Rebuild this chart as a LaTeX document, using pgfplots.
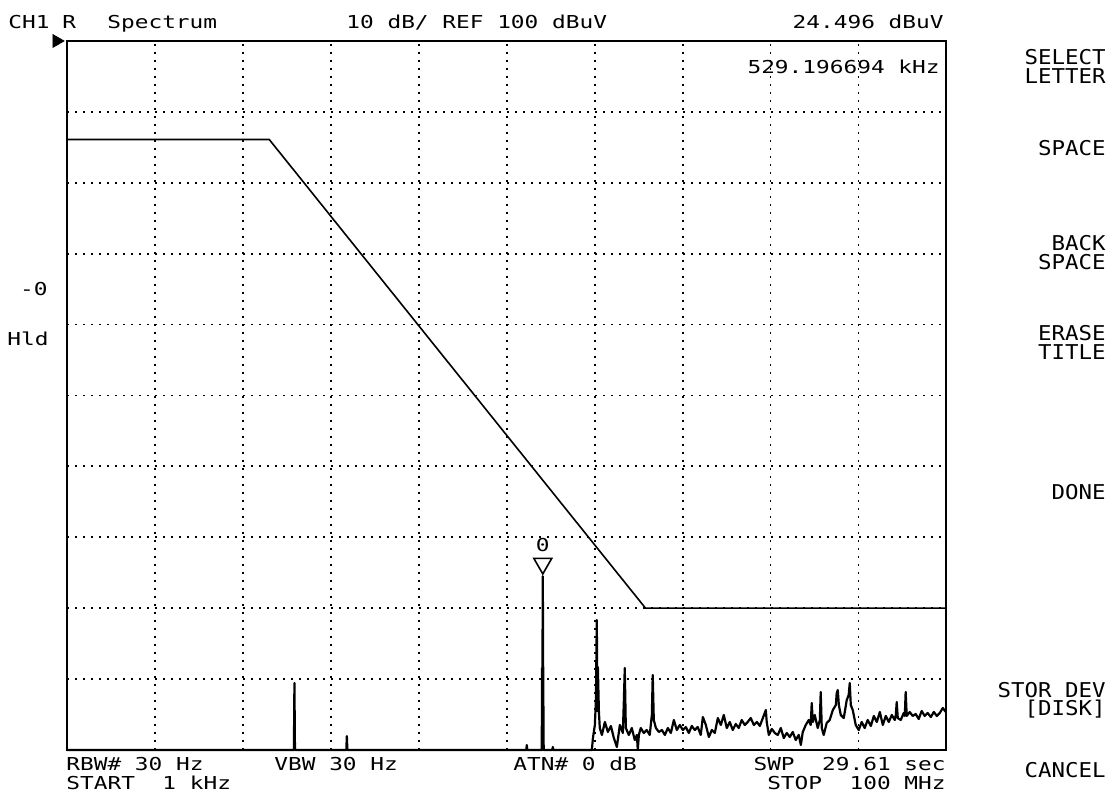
\documentclass[border=0pt]{standalone}
\usepackage{fontspec}
\usepackage{pgfplots}
\pgfplotsset{compat=1.18}
\setmainfont{DejaVu Sans Mono}
\newfontfamily\crtfont[FakeStretch=1.28]{DejaVu Sans Mono}
\newfontfamily\keyfont[FakeStretch=1.1]{DejaVu Sans Mono}
\newcommand\crt{\crtfont\fontsize{8.9pt}{9.5pt}\selectfont}
\newcommand\key{\keyfont\fontsize{10.2pt}{9.5pt}\selectfont}
\begin{document}
\begin{tikzpicture}
\useasboundingbox (0,0) rectangle (558pt,397pt);
\begin{axis}[
  at={(33.5pt,22pt)}, anchor=south west,
  width=439.75pt, height=354.5pt, scale only axis,
  xmin=3, xmax=8, ymin=0, ymax=100,
  xtick={3.5,4,...,7.5}, ytick={10,20,...,90},
  xticklabels={}, yticklabels={},
  major tick length=0pt,
  grid=major,
  major grid style={black, line width=0.9pt, dash pattern=on 0.9pt off 3.1pt},
  axis line style={line width=1pt},
  clip=false,
]
% limit line
\addplot[black, line width=0.8pt] coordinates {(3,86.1)(4.150,86.1)(6.289,20)(8,20)};
% measured trace (x = log10 of frequency in Hz, y = dBuV)
\addplot[black, line width=1.1pt, line join=round] coordinates {
(3,0)(4.290,0)(4.293,9.45)(4.296,0)(4.588,0)(4.591,1.97)(4.594,0)
(5.611,0)(5.614,0.7)(5.617,0)(5.699,0)(5.701,11.57)(5.702,0)(5.703,11.57)(5.705,24.5)(5.707,11.57)(5.710,0)
(5.759,0)(5.762,0.42)(5.765,0)
(5.984,0)(5.990,1.69)(6.001,3.53)(6.007,7.05)(6.012,18.34)(6.015,5.5)(6.018,11.71)(6.024,5.36)
(6.029,3.10)(6.041,2.12)(6.058,3.95)(6.075,2.54)(6.092,3.39)(6.109,1.69)(6.126,0.42)
(6.143,3.53)(6.160,2.40)(6.166,7.05)(6.171,11.57)(6.177,3.10)(6.194,2.12)(6.211,3.10)
(6.228,1.41)(6.240,2.12)(6.245,0)(6.251,2.12)(6.262,3.10)(6.279,2.40)(6.296,2.82)
(6.313,2.12)(6.325,4.94)(6.330,10.58)(6.336,4.23)(6.348,3.10)(6.365,2.54)(6.382,2.82)
(6.399,2.12)(6.416,3.10)(6.433,2.40)(6.450,4.23)(6.467,2.82)(6.484,3.53)(6.501,2.82)
(6.518,3.24)(6.535,2.40)(6.552,3.39)(6.569,2.82)(6.586,3.24)(6.603,2.12)(6.615,4.65)
(6.632,3.53)(6.649,1.83)(6.666,2.82)(6.683,2.40)(6.700,4.51)(6.717,3.53)(6.734,4.94)
(6.751,3.10)(6.768,3.95)(6.785,2.82)(6.802,3.67)(6.819,3.10)(6.836,4.23)(6.853,3.53)
(6.870,3.95)(6.887,4.51)(6.905,3.53)(6.922,3.95)(6.939,3.39)(6.956,4.51)(6.973,5.64)
(6.978,3.95)(6.990,2.12)(7.007,2.96)(7.024,2.40)(7.041,2.12)(7.058,3.10)(7.075,1.69)
(7.092,2.40)(7.109,1.83)(7.126,2.54)(7.143,1.41)(7.160,2.12)(7.172,0.71)(7.183,2.54)
(7.200,3.53)(7.217,4.23)(7.228,3.53)(7.234,6.63)(7.240,3.95)(7.251,4.94)(7.268,3.10)
(7.280,4.23)(7.285,8.18)(7.291,3.10)(7.302,2.12)(7.319,3.81)(7.336,4.23)(7.354,5.64)
(7.371,6.35)(7.376,8.04)(7.382,8.46)(7.388,6.35)(7.399,4.94)(7.416,4.51)(7.433,7.05)
(7.444,7.76)(7.450,9.45)(7.456,6.35)(7.467,5.64)(7.484,3.53)(7.501,2.82)(7.518,3.95)
(7.535,3.10)(7.552,4.23)(7.570,3.39)(7.587,4.80)(7.604,3.95)(7.621,5.36)(7.638,3.53)
(7.655,4.80)(7.672,3.95)(7.689,4.94)(7.706,4.23)(7.712,4.94)(7.717,6.77)(7.723,4.51)
(7.740,4.23)(7.757,5.22)(7.763,4.80)(7.768,8.18)(7.774,4.80)(7.791,5.36)(7.808,4.80)
(7.825,5.08)(7.842,4.37)(7.859,5.50)(7.876,4.80)(7.893,5.22)(7.911,4.65)(7.928,5.36)
(7.945,4.80)(7.962,5.22)(7.979,5.92)(7.996,5.36)
};
% marker 0
\addplot[only marks, mark=triangle, mark size=5.2pt,
  mark options={rotate=180, fill=white, draw=black, line width=0.8pt}] coordinates {(5.705,26.3)};
\node[font=\crt] at (axis cs:5.705,28.9) {0};
% reference level indicator
\addplot[only marks, mark=triangle*, mark size=3.67pt,
  mark options={rotate=-90, fill=black, draw=black}] coordinates {(2.941,100)};
\end{axis}
\begin{scope}[x=0.5pt, y=-0.5pt, shift={(0pt,397pt)}]
\node[font=\crt, anchor=base west, inner sep=0pt] at (8,29) {CH1};
\node[font=\crt, anchor=base west, inner sep=0pt] at (62,29) {R};
\node[font=\crt, anchor=base west, inner sep=0pt] at (107,29) {Spectrum};
\node[font=\crt, anchor=base west, inner sep=0pt] at (346,29) {10 dB/ REF 100 dBuV};
\node[font=\crt, anchor=base east, inner sep=0pt] at (944,29) {24.496 dBuV};
\node[font=\crt, anchor=base east, inner sep=0pt] at (940,74) {529.196694 kHz};
\node[font=\crt, anchor=base east, inner sep=0pt] at (48,296) {-0};
\node[font=\crt, anchor=base east, inner sep=0pt] at (49,346) {Hld};
\node[font=\crt, anchor=base west, inner sep=0pt] at (66,771) {RBW\# 30 Hz};
\node[font=\crt, anchor=base west, inner sep=0pt] at (66,790) {START~~1 kHz};
\node[font=\crt, anchor=base west, inner sep=0pt] at (274,771) {VBW 30 Hz};
\node[font=\crt, anchor=base west, inner sep=0pt] at (513,771) {ATN\# 0 dB};
\node[font=\crt, anchor=base east, inner sep=0pt] at (946,771) {SWP~~29.61 sec};
\node[font=\crt, anchor=base east, inner sep=0pt] at (946,790) {STOP~~100 MHz};
\node[font=\key, anchor=base east, inner sep=0pt] at (1106,65) {SELECT};
\node[font=\key, anchor=base east, inner sep=0pt] at (1106,84) {LETTER};
\node[font=\key, anchor=base east, inner sep=0pt] at (1106,156) {SPACE};
\node[font=\key, anchor=base east, inner sep=0pt] at (1106,251) {BACK};
\node[font=\key, anchor=base east, inner sep=0pt] at (1106,270) {SPACE};
\node[font=\key, anchor=base east, inner sep=0pt] at (1106,341) {ERASE};
\node[font=\key, anchor=base east, inner sep=0pt] at (1106,360) {TITLE};
\node[font=\key, anchor=base east, inner sep=0pt] at (1106,500) {DONE};
\node[font=\key, anchor=base east, inner sep=0pt] at (1106,697) {STOR DEV};
\node[font=\key, anchor=base east, inner sep=0pt] at (1106,716) {[DISK]};
\node[font=\key, anchor=base east, inner sep=0pt] at (1106,777) {CANCEL};
\end{scope}
\end{tikzpicture}
\end{document}
